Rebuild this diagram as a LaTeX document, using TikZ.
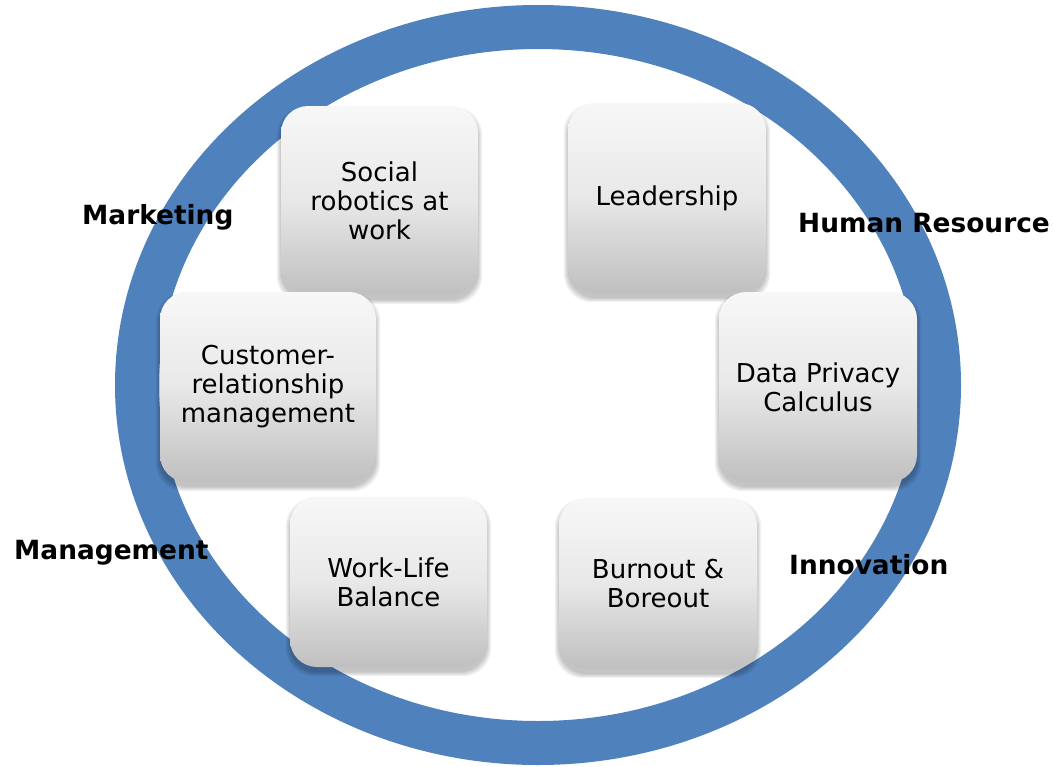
\documentclass[tikz,border=0pt]{standalone}
\usepackage{fontspec}
\setmainfont{DejaVu Sans}
\definecolor{ringblue}{HTML}{4F81BD}
\pgfdeclarelayer{ringlayer}
\pgfdeclarelayer{shadowlayer}
\pgfsetlayers{ringlayer,shadowlayer,main}
\newcommand{\softshadow}[1]{%
  \foreach \k in {0,1,2,3,4}{%
    \fill[black, opacity=0.05, rounded corners=28pt]
      ([xshift=-\k pt, yshift=-5pt-\k pt]#1.south west) rectangle
      ([xshift=\k pt, yshift=-5pt+\k pt]#1.north east);
  }}
\begin{document}
\begin{tikzpicture}[x=1pt,y=-1pt,
  topic/.style={rounded corners=27pt, top color=black!3, bottom color=black!25,
    middle color=black!9, draw=none,
    align=center, inner sep=0pt, font=\fontsize{26}{29}\selectfont},
  area/.style={font=\fontsize{26.4}{29}\selectfont\bfseries, inner sep=0pt, anchor=base west}]
\useasboundingbox (0,0) rectangle (1054,766);
\begin{pgfonlayer}{ringlayer}
\draw[ringblue, line width=44pt] (538,385) ellipse [x radius=401pt, y radius=358pt];
\end{pgfonlayer}

\node[topic, minimum width=197pt, minimum height=189pt] (social) at (379.5,200.5) {Social\\robotics at\\work};
\node[topic, minimum width=198pt, minimum height=190pt] (leader) at (667,198) {Leadership};
\node[topic, minimum width=216pt, minimum height=190pt] (crm) at (268,387) {Customer-\\relationship\\management};
\node[topic, minimum width=198pt, minimum height=190pt] (privacy) at (818,387) {Data Privacy\\Calculus};
\node[topic, minimum width=197pt, minimum height=170pt] (wlb) at (388.5,582) {Work-Life\\Balance};
\node[topic, minimum width=198pt, minimum height=171pt] (burn) at (658,583.5) {Burnout \&\\Boreout};

\begin{pgfonlayer}{shadowlayer}
\softshadow{social}
\softshadow{leader}
\softshadow{crm}
\softshadow{privacy}
\softshadow{wlb}
\softshadow{burn}
\end{pgfonlayer}

\node[area] (mkt) at (82,224) {Marketing};
\node[area] (hr) at (798,232) {Human Resource};
\node[area] (mgmt) at (14,559) {Management};
\node[area] (inno) at (789,574) {Innovation};
\end{tikzpicture}
\end{document}
